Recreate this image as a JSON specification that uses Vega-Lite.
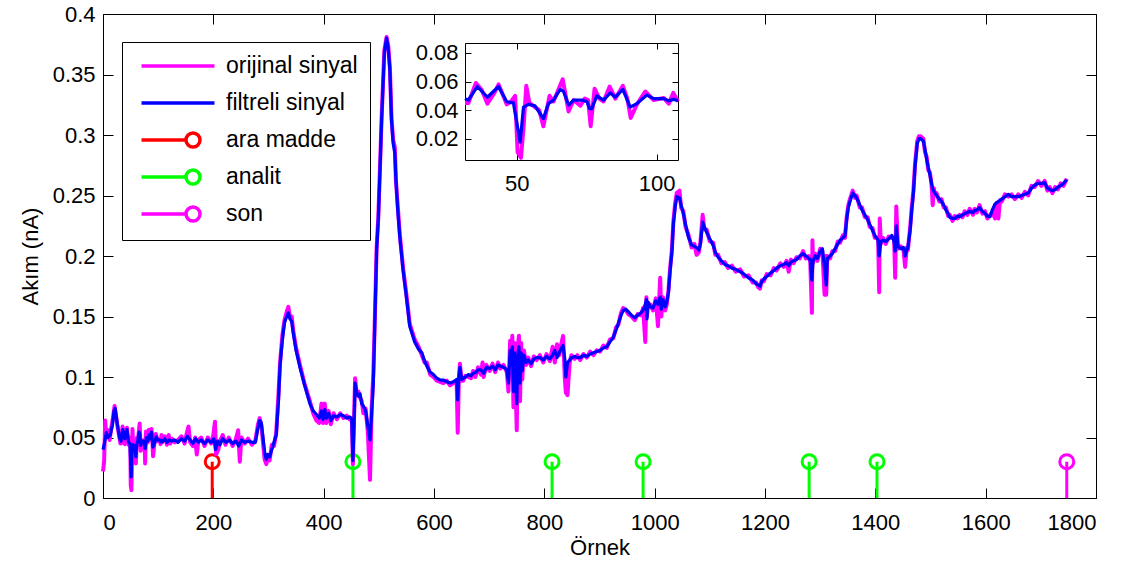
{
  "$schema": "https://vega.github.io/schema/vega-lite/v6.json",
  "width": 993,
  "height": 484,
  "autosize": {"type": "none"},
  "padding": {"left": 103, "top": 14, "right": 40, "bottom": 76},
  "background": "white",
  "config": {
    "view": {"stroke": null},
    "font": "Liberation Sans",
    "axis": {
      "grid": false,
      "domainColor": "black",
      "domainWidth": 1,
      "tickColor": "black",
      "tickWidth": 1,
      "labelColor": "black",
      "labelFont": "Liberation Sans",
      "labelFontSize": 22,
      "titleFont": "Liberation Sans",
      "titleFontSize": 22,
      "titleFontWeight": "normal",
      "titleColor": "black"
    }
  },
  "datasets": {
    "stems": [
      {"type": "ara madde", "x": 198, "y": 0.03},
      {"type": "analit", "x": 453, "y": 0.03},
      {"type": "analit", "x": 814, "y": 0.03},
      {"type": "analit", "x": 979, "y": 0.03},
      {"type": "analit", "x": 1280, "y": 0.03},
      {"type": "analit", "x": 1403, "y": 0.03},
      {"type": "son", "x": 1747, "y": 0.03}
    ],
    "filt": [
      {"x":0,"y":0.040},{"x":3,"y":0.046},{"x":6,"y":0.054},{"x":9,"y":0.050},{"x":13,"y":0.052},{"x":17,"y":0.060},{"x":20,"y":0.072},{"x":22,"y":0.074},{"x":25,"y":0.064},{"x":27,"y":0.058},{"x":30,"y":0.050},
      {"x":31.5,"y":0.048},{"x":32.7,"y":0.047},{"x":35.9,"y":0.0565},{"x":39.5,"y":0.049},{"x":43.5,"y":0.0565},{"x":46.4,"y":0.0458},{"x":48.8,"y":0.045},{"x":51.2,"y":0.0175},{"x":52.4,"y":0.042},{"x":54.2,"y":0.044},{"x":56.5,"y":0.043},{"x":59.5,"y":0.034},{"x":61.3,"y":0.0445},{"x":63.1,"y":0.047},{"x":65.5,"y":0.0545},{"x":66.7,"y":0.053},{"x":68.5,"y":0.0435},{"x":70.3,"y":0.047},{"x":73.3,"y":0.047},{"x":75.1,"y":0.0458},{"x":76.0,"y":0.041},{"x":76.8,"y":0.041},{"x":78.6,"y":0.050},{"x":81.0,"y":0.047},{"x":83.4,"y":0.052},{"x":85.2,"y":0.049},{"x":87.9,"y":0.0545},{"x":90.5,"y":0.042},{"x":92.9,"y":0.0445},{"x":96.5,"y":0.0505},{"x":98.9,"y":0.048},{"x":102.5,"y":0.048},{"x":104.3,"y":0.0465},{"x":106.1,"y":0.0475},{"x":107.6,"y":0.0465},
      {"x":112,"y":0.049},{"x":116,"y":0.046},{"x":120,"y":0.048},{"x":125,"y":0.047},{"x":130,"y":0.048},{"x":136,"y":0.046},{"x":142,"y":0.049},{"x":148,"y":0.047},{"x":153,"y":0.051},{"x":158,"y":0.048},{"x":163,"y":0.045},{"x":168,"y":0.049},{"x":173,"y":0.046},{"x":178,"y":0.048},{"x":184,"y":0.045},{"x":190,"y":0.048},{"x":196,"y":0.046},{"x":201,"y":0.049},{"x":204,"y":0.040},{"x":208,"y":0.047},{"x":212,"y":0.044},{"x":217,"y":0.049},{"x":223,"y":0.046},{"x":229,"y":0.048},{"x":235,"y":0.045},{"x":241,"y":0.047},{"x":246,"y":0.043},{"x":251,"y":0.048},{"x":257,"y":0.046},{"x":263,"y":0.047},{"x":270,"y":0.046},{"x":276,"y":0.046},{"x":281,"y":0.058},{"x":284,"y":0.064},{"x":287,"y":0.062},{"x":290,"y":0.050},{"x":293,"y":0.038},{"x":296,"y":0.032},{"x":299,"y":0.036},{"x":302,"y":0.034},{"x":306,"y":0.040},{"x":310,"y":0.046},{"x":314,"y":0.052},{"x":318,"y":0.080},{"x":321,"y":0.110},{"x":325,"y":0.130},{"x":329,"y":0.145},{"x":333,"y":0.150},{"x":336,"y":0.153},{"x":339,"y":0.148},{"x":342,"y":0.146},{"x":345,"y":0.136},{"x":350,"y":0.122},{"x":357,"y":0.108},{"x":365,"y":0.094},{"x":375,"y":0.078},{"x":381,"y":0.072},{"x":387,"y":0.069},{"x":392,"y":0.066},{"x":396,"y":0.072},{"x":399,"y":0.065},{"x":402,"y":0.073},{"x":405,"y":0.066},{"x":409,"y":0.070},{"x":413,"y":0.064},{"x":418,"y":0.068},{"x":424,"y":0.067},{"x":430,"y":0.069},{"x":436,"y":0.068},{"x":442,"y":0.066},{"x":447,"y":0.067},{"x":451,"y":0.065},{"x":453,"y":0.031},{"x":455,"y":0.060},{"x":457,"y":0.095},{"x":460,"y":0.087},{"x":463,"y":0.084},{"x":466,"y":0.086},{"x":469,"y":0.078},{"x":472,"y":0.076},{"x":476,"y":0.072},{"x":480,"y":0.060},{"x":484,"y":0.048},{"x":487,"y":0.070},{"x":490,"y":0.095},{"x":493,"y":0.150},{"x":496,"y":0.205},{"x":499,"y":0.230},{"x":502,"y":0.270},{"x":505,"y":0.312},{"x":510,"y":0.368},{"x":514,"y":0.380},{"x":517,"y":0.372},{"x":520,"y":0.354},{"x":523,"y":0.312},{"x":526,"y":0.293},{"x":529,"y":0.285},{"x":531,"y":0.263},{"x":534,"y":0.240},{"x":538,"y":0.216},{"x":544,"y":0.188},{"x":550,"y":0.166},{"x":556,"y":0.142},{"x":565,"y":0.129},{"x":572,"y":0.123},{"x":578,"y":0.120},{"x":583,"y":0.113},{"x":587,"y":0.109},{"x":593,"y":0.104},{"x":599,"y":0.102},{"x":605,"y":0.099},{"x":611,"y":0.0975},{"x":617,"y":0.0975},{"x":623,"y":0.096},{"x":629,"y":0.095},{"x":635,"y":0.096},{"x":641,"y":0.098},{"x":643,"y":0.081},{"x":645,"y":0.100},{"x":647,"y":0.108},{"x":650,"y":0.098},{"x":653,"y":0.099},{"x":657,"y":0.100},{"x":662,"y":0.102},{"x":667,"y":0.101},{"x":671,"y":0.103},{"x":676,"y":0.104},{"x":680,"y":0.106},{"x":685,"y":0.106},{"x":690,"y":0.103},{"x":695,"y":0.108},{"x":701,"y":0.107},{"x":706,"y":0.109},{"x":711,"y":0.106},{"x":716,"y":0.110},{"x":720,"y":0.109},{"x":726,"y":0.108},{"x":732,"y":0.106},{"x":735,"y":0.095},{"x":738,"y":0.122},{"x":740,"y":0.110},{"x":742,"y":0.125},{"x":744,"y":0.088},{"x":746,"y":0.120},{"x":748,"y":0.100},{"x":750,"y":0.078},{"x":752,"y":0.118},{"x":754,"y":0.125},{"x":756,"y":0.095},{"x":758,"y":0.120},{"x":760,"y":0.105},{"x":763,"y":0.118},{"x":767,"y":0.112},{"x":771,"y":0.114},{"x":776,"y":0.111},{"x":781,"y":0.115},{"x":786,"y":0.116},{"x":792,"y":0.116},{"x":798,"y":0.114},{"x":804,"y":0.117},{"x":810,"y":0.115},{"x":815,"y":0.118},{"x":819,"y":0.122},{"x":823,"y":0.116},{"x":827,"y":0.120},{"x":831,"y":0.124},{"x":834,"y":0.126},{"x":837,"y":0.115},{"x":839,"y":0.100},{"x":842,"y":0.112},{"x":846,"y":0.114},{"x":849,"y":0.116},{"x":855,"y":0.117},{"x":860,"y":0.116},{"x":865,"y":0.116},{"x":871,"y":0.118},{"x":877,"y":0.117},{"x":883,"y":0.119},{"x":889,"y":0.120},{"x":895,"y":0.121},{"x":901,"y":0.122},{"x":907,"y":0.124},{"x":913,"y":0.125},{"x":919,"y":0.129},{"x":925,"y":0.133},{"x":930,"y":0.139},{"x":934,"y":0.144},{"x":939,"y":0.151},{"x":943,"y":0.155},{"x":948,"y":0.156},{"x":952,"y":0.154},{"x":958,"y":0.151},{"x":964,"y":0.149},{"x":969,"y":0.151},{"x":975,"y":0.153},{"x":979,"y":0.155},{"x":983,"y":0.160},{"x":985,"y":0.164},{"x":986,"y":0.148},{"x":988,"y":0.162},{"x":992,"y":0.158},{"x":997,"y":0.157},{"x":1002,"y":0.163},{"x":1006,"y":0.160},{"x":1010,"y":0.166},{"x":1012,"y":0.156},{"x":1015,"y":0.164},{"x":1019,"y":0.158},{"x":1022,"y":0.162},{"x":1025,"y":0.170},{"x":1028,"y":0.188},{"x":1031,"y":0.202},{"x":1034,"y":0.227},{"x":1037,"y":0.240},{"x":1040,"y":0.249},{"x":1045,"y":0.248},{"x":1048,"y":0.242},{"x":1052,"y":0.235},{"x":1056,"y":0.226},{"x":1061,"y":0.216},{"x":1067,"y":0.209},{"x":1072,"y":0.208},{"x":1076,"y":0.207},{"x":1080,"y":0.205},{"x":1083,"y":0.210},{"x":1087,"y":0.228},{"x":1090,"y":0.224},{"x":1094,"y":0.220},{"x":1100,"y":0.214},{"x":1106,"y":0.209},{"x":1110,"y":0.203},{"x":1115,"y":0.199},{"x":1121,"y":0.196},{"x":1127,"y":0.193},{"x":1133,"y":0.192},{"x":1140,"y":0.190},{"x":1147,"y":0.189},{"x":1155,"y":0.187},{"x":1162,"y":0.185},{"x":1170,"y":0.182},{"x":1178,"y":0.180},{"x":1184,"y":0.177},{"x":1188,"y":0.176},{"x":1191,"y":0.175},{"x":1194,"y":0.179},{"x":1198,"y":0.181},{"x":1203,"y":0.183},{"x":1210,"y":0.186},{"x":1216,"y":0.188},{"x":1221,"y":0.190},{"x":1228,"y":0.192},{"x":1234,"y":0.193},{"x":1239,"y":0.1945},{"x":1243,"y":0.192},{"x":1247,"y":0.195},{"x":1252,"y":0.196},{"x":1257,"y":0.197},{"x":1263,"y":0.200},{"x":1269,"y":0.202},{"x":1274,"y":0.200},{"x":1279,"y":0.198},{"x":1282,"y":0.197},{"x":1285,"y":0.180},{"x":1287,"y":0.196},{"x":1291,"y":0.200},{"x":1295,"y":0.198},{"x":1300,"y":0.204},{"x":1304,"y":0.206},{"x":1308,"y":0.190},{"x":1311,"y":0.176},{"x":1313,"y":0.198},{"x":1318,"y":0.200},{"x":1322,"y":0.202},{"x":1327,"y":0.206},{"x":1332,"y":0.210},{"x":1336,"y":0.213},{"x":1341,"y":0.215},{"x":1345,"y":0.217},{"x":1348,"y":0.230},{"x":1351,"y":0.240},{"x":1354,"y":0.245},{"x":1359,"y":0.252},{"x":1363,"y":0.250},{"x":1366,"y":0.248},{"x":1372,"y":0.242},{"x":1376,"y":0.238},{"x":1381,"y":0.234},{"x":1386,"y":0.230},{"x":1390,"y":0.226},{"x":1395,"y":0.221},{"x":1399,"y":0.217},{"x":1405,"y":0.213},{"x":1407,"y":0.200},{"x":1410,"y":0.212},{"x":1414,"y":0.213},{"x":1419,"y":0.212},{"x":1424,"y":0.214},{"x":1430,"y":0.217},{"x":1434,"y":0.212},{"x":1436,"y":0.204},{"x":1438,"y":0.225},{"x":1441,"y":0.208},{"x":1446,"y":0.206},{"x":1451,"y":0.207},{"x":1454,"y":0.200},{"x":1457,"y":0.205},{"x":1459,"y":0.207},{"x":1463,"y":0.221},{"x":1466,"y":0.238},{"x":1469,"y":0.252},{"x":1472,"y":0.274},{"x":1476,"y":0.293},{"x":1479,"y":0.297},{"x":1482,"y":0.297},{"x":1487,"y":0.295},{"x":1490,"y":0.288},{"x":1493,"y":0.280},{"x":1496,"y":0.273},{"x":1499,"y":0.267},{"x":1502,"y":0.260},{"x":1504,"y":0.255},{"x":1508,"y":0.252},{"x":1511,"y":0.250},{"x":1516,"y":0.247},{"x":1520,"y":0.245},{"x":1524,"y":0.242},{"x":1528,"y":0.238},{"x":1532,"y":0.235},{"x":1535,"y":0.232},{"x":1540,"y":0.231},{"x":1544,"y":0.231},{"x":1549,"y":0.233},{"x":1553,"y":0.2325},{"x":1558,"y":0.234},{"x":1562,"y":0.235},{"x":1567,"y":0.236},{"x":1571,"y":0.237},{"x":1577,"y":0.236},{"x":1580,"y":0.2375},{"x":1584,"y":0.238},{"x":1589,"y":0.240},{"x":1594,"y":0.237},{"x":1599,"y":0.235},{"x":1603,"y":0.233},{"x":1608,"y":0.2325},{"x":1612,"y":0.238},{"x":1617,"y":0.243},{"x":1623,"y":0.245},{"x":1629,"y":0.247},{"x":1635,"y":0.249},{"x":1641,"y":0.251},{"x":1647,"y":0.249},{"x":1653,"y":0.249},{"x":1659,"y":0.249},{"x":1665,"y":0.250},{"x":1671,"y":0.251},{"x":1677,"y":0.252},{"x":1683,"y":0.256},{"x":1689,"y":0.2587},{"x":1695,"y":0.260},{"x":1701,"y":0.260},{"x":1707,"y":0.2605},{"x":1712,"y":0.256},{"x":1716,"y":0.255},{"x":1721,"y":0.254},{"x":1726,"y":0.255},{"x":1731,"y":0.257},{"x":1736,"y":0.258},{"x":1741,"y":0.260},{"x":1747,"y":0.263}
    ],
    "orig": [
      {"x":0,"y":0.022},{"x":2,"y":0.030},{"x":4,"y":0.064},{"x":6,"y":0.050},{"x":9,"y":0.056},{"x":12,"y":0.048},{"x":15,"y":0.058},{"x":18,"y":0.066},{"x":21,"y":0.076},{"x":23,"y":0.070},{"x":26,"y":0.060},{"x":29,"y":0.052},
      {"x":31.5,"y":0.045},{"x":32.7,"y":0.045},{"x":35.4,"y":0.059},{"x":37.5,"y":0.054},{"x":39.5,"y":0.0445},{"x":42,"y":0.052},{"x":43.5,"y":0.058},{"x":46.4,"y":0.044},{"x":48,"y":0.046},{"x":49.4,"y":0.050},{"x":50.3,"y":0.0105},{"x":51.5,"y":0.0065},{"x":52.5,"y":0.030},{"x":53.4,"y":0.057},{"x":54.5,"y":0.045},{"x":56.5,"y":0.042},{"x":58,"y":0.040},{"x":59.5,"y":0.0286},{"x":61.7,"y":0.050},{"x":63.1,"y":0.046},{"x":65,"y":0.055},{"x":66.4,"y":0.0615},{"x":67.5,"y":0.050},{"x":68.5,"y":0.039},{"x":70.3,"y":0.047},{"x":72.7,"y":0.043},{"x":74.3,"y":0.048},{"x":75.5,"y":0.047},{"x":76.4,"y":0.0286},{"x":77.8,"y":0.055},{"x":79.5,"y":0.048},{"x":81,"y":0.046},{"x":83.2,"y":0.0565},{"x":85.2,"y":0.048},{"x":87.9,"y":0.057},{"x":89.5,"y":0.048},{"x":90.7,"y":0.0345},{"x":92.9,"y":0.044},{"x":95.9,"y":0.053},{"x":98.9,"y":0.047},{"x":102.5,"y":0.0485},{"x":104.3,"y":0.0445},{"x":105.9,"y":0.052},{"x":107.6,"y":0.046},
      {"x":112,"y":0.051},{"x":116,"y":0.044},{"x":119,"y":0.052},{"x":122,"y":0.045},{"x":125,"y":0.049},{"x":130,"y":0.046},{"x":136,"y":0.048},{"x":142,"y":0.051},{"x":148,"y":0.045},{"x":152,"y":0.054},{"x":155,"y":0.059},{"x":158,"y":0.046},{"x":163,"y":0.043},{"x":167,"y":0.050},{"x":170,"y":0.036},{"x":173,"y":0.048},{"x":178,"y":0.050},{"x":184,"y":0.043},{"x":190,"y":0.050},{"x":196,"y":0.045},{"x":200,"y":0.052},{"x":203,"y":0.063},{"x":205,"y":0.036},{"x":209,"y":0.040},{"x":212,"y":0.047},{"x":217,"y":0.052},{"x":222,"y":0.044},{"x":228,"y":0.050},{"x":235,"y":0.043},{"x":241,"y":0.049},{"x":245,"y":0.056},{"x":248,"y":0.030},{"x":251,"y":0.050},{"x":257,"y":0.045},{"x":263,"y":0.049},{"x":270,"y":0.044},{"x":276,"y":0.047},{"x":281,"y":0.061},{"x":284,"y":0.066},{"x":287,"y":0.060},{"x":290,"y":0.046},{"x":293,"y":0.032},{"x":296,"y":0.028},{"x":299,"y":0.034},{"x":302,"y":0.031},{"x":306,"y":0.044},{"x":310,"y":0.043},{"x":314,"y":0.054},{"x":318,"y":0.085},{"x":321,"y":0.112},{"x":325,"y":0.134},{"x":329,"y":0.147},{"x":333,"y":0.154},{"x":336,"y":0.158},{"x":339,"y":0.149},{"x":342,"y":0.150},{"x":345,"y":0.138},{"x":350,"y":0.124},{"x":357,"y":0.110},{"x":365,"y":0.095},{"x":375,"y":0.080},{"x":381,"y":0.070},{"x":387,"y":0.064},{"x":392,"y":0.062},{"x":396,"y":0.078},{"x":399,"y":0.062},{"x":402,"y":0.078},{"x":405,"y":0.062},{"x":409,"y":0.072},{"x":413,"y":0.061},{"x":418,"y":0.070},{"x":424,"y":0.065},{"x":430,"y":0.070},{"x":436,"y":0.066},{"x":442,"y":0.068},{"x":447,"y":0.065},{"x":451,"y":0.066},{"x":453,"y":0.028},{"x":455,"y":0.065},{"x":457,"y":0.099},{"x":460,"y":0.085},{"x":463,"y":0.088},{"x":466,"y":0.083},{"x":469,"y":0.080},{"x":472,"y":0.070},{"x":476,"y":0.074},{"x":480,"y":0.055},{"x":484,"y":0.015},{"x":487,"y":0.074},{"x":490,"y":0.103},{"x":493,"y":0.152},{"x":496,"y":0.207},{"x":499,"y":0.232},{"x":502,"y":0.272},{"x":505,"y":0.314},{"x":510,"y":0.370},{"x":514,"y":0.381},{"x":517,"y":0.374},{"x":520,"y":0.356},{"x":523,"y":0.314},{"x":526,"y":0.296},{"x":529,"y":0.290},{"x":531,"y":0.262},{"x":534,"y":0.243},{"x":538,"y":0.218},{"x":544,"y":0.190},{"x":550,"y":0.168},{"x":556,"y":0.144},{"x":565,"y":0.131},{"x":572,"y":0.125},{"x":578,"y":0.118},{"x":583,"y":0.112},{"x":587,"y":0.112},{"x":593,"y":0.102},{"x":599,"y":0.100},{"x":605,"y":0.097},{"x":611,"y":0.096},{"x":617,"y":0.095},{"x":623,"y":0.097},{"x":629,"y":0.093},{"x":635,"y":0.095},{"x":641,"y":0.097},{"x":643,"y":0.054},{"x":645,"y":0.098},{"x":647,"y":0.111},{"x":650,"y":0.097},{"x":653,"y":0.097},{"x":657,"y":0.101},{"x":662,"y":0.100},{"x":667,"y":0.099},{"x":671,"y":0.105},{"x":675,"y":0.100},{"x":680,"y":0.108},{"x":685,"y":0.102},{"x":688,"y":0.112},{"x":690,"y":0.100},{"x":695,"y":0.110},{"x":701,"y":0.105},{"x":706,"y":0.111},{"x":711,"y":0.104},{"x":716,"y":0.112},{"x":720,"y":0.107},{"x":726,"y":0.110},{"x":732,"y":0.104},{"x":735,"y":0.088},{"x":738,"y":0.130},{"x":740,"y":0.105},{"x":742,"y":0.134},{"x":744,"y":0.075},{"x":746,"y":0.128},{"x":748,"y":0.092},{"x":750,"y":0.056},{"x":752,"y":0.126},{"x":754,"y":0.134},{"x":756,"y":0.080},{"x":758,"y":0.128},{"x":760,"y":0.098},{"x":763,"y":0.122},{"x":767,"y":0.110},{"x":771,"y":0.116},{"x":776,"y":0.109},{"x":781,"y":0.117},{"x":786,"y":0.114},{"x":792,"y":0.118},{"x":798,"y":0.112},{"x":804,"y":0.119},{"x":810,"y":0.113},{"x":815,"y":0.125},{"x":819,"y":0.112},{"x":823,"y":0.127},{"x":827,"y":0.118},{"x":831,"y":0.128},{"x":834,"y":0.134},{"x":837,"y":0.100},{"x":839,"y":0.087},{"x":842,"y":0.085},{"x":846,"y":0.112},{"x":849,"y":0.118},{"x":855,"y":0.115},{"x":860,"y":0.118},{"x":865,"y":0.114},{"x":871,"y":0.119},{"x":877,"y":0.116},{"x":883,"y":0.121},{"x":889,"y":0.118},{"x":895,"y":0.122},{"x":901,"y":0.121},{"x":907,"y":0.126},{"x":913,"y":0.124},{"x":919,"y":0.131},{"x":925,"y":0.132},{"x":930,"y":0.141},{"x":934,"y":0.143},{"x":939,"y":0.153},{"x":943,"y":0.157},{"x":948,"y":0.155},{"x":952,"y":0.152},{"x":958,"y":0.150},{"x":964,"y":0.147},{"x":969,"y":0.152},{"x":975,"y":0.151},{"x":979,"y":0.157},{"x":983,"y":0.129},{"x":985,"y":0.166},{"x":986,"y":0.150},{"x":988,"y":0.160},{"x":992,"y":0.160},{"x":997,"y":0.155},{"x":1002,"y":0.165},{"x":1006,"y":0.142},{"x":1010,"y":0.182},{"x":1012,"y":0.150},{"x":1015,"y":0.166},{"x":1019,"y":0.155},{"x":1022,"y":0.160},{"x":1025,"y":0.172},{"x":1028,"y":0.190},{"x":1031,"y":0.204},{"x":1034,"y":0.229},{"x":1037,"y":0.243},{"x":1040,"y":0.252},{"x":1045,"y":0.254},{"x":1048,"y":0.240},{"x":1052,"y":0.237},{"x":1056,"y":0.224},{"x":1061,"y":0.218},{"x":1067,"y":0.207},{"x":1072,"y":0.210},{"x":1076,"y":0.201},{"x":1080,"y":0.203},{"x":1083,"y":0.212},{"x":1087,"y":0.234},{"x":1090,"y":0.222},{"x":1094,"y":0.222},{"x":1100,"y":0.212},{"x":1106,"y":0.211},{"x":1110,"y":0.201},{"x":1115,"y":0.201},{"x":1121,"y":0.194},{"x":1127,"y":0.195},{"x":1133,"y":0.190},{"x":1140,"y":0.192},{"x":1147,"y":0.187},{"x":1155,"y":0.189},{"x":1162,"y":0.183},{"x":1170,"y":0.184},{"x":1178,"y":0.178},{"x":1184,"y":0.178},{"x":1188,"y":0.174},{"x":1191,"y":0.173},{"x":1194,"y":0.180},{"x":1198,"y":0.179},{"x":1203,"y":0.185},{"x":1210,"y":0.184},{"x":1216,"y":0.190},{"x":1221,"y":0.188},{"x":1228,"y":0.194},{"x":1234,"y":0.191},{"x":1239,"y":0.196},{"x":1243,"y":0.187},{"x":1247,"y":0.197},{"x":1252,"y":0.194},{"x":1257,"y":0.199},{"x":1263,"y":0.198},{"x":1269,"y":0.204},{"x":1274,"y":0.198},{"x":1279,"y":0.200},{"x":1282,"y":0.195},{"x":1285,"y":0.153},{"x":1286,"y":0.213},{"x":1287,"y":0.194},{"x":1291,"y":0.202},{"x":1295,"y":0.196},{"x":1300,"y":0.206},{"x":1304,"y":0.204},{"x":1308,"y":0.168},{"x":1310,"y":0.200},{"x":1311,"y":0.168},{"x":1313,"y":0.200},{"x":1318,"y":0.198},{"x":1322,"y":0.204},{"x":1327,"y":0.204},{"x":1332,"y":0.212},{"x":1336,"y":0.211},{"x":1341,"y":0.217},{"x":1345,"y":0.215},{"x":1348,"y":0.232},{"x":1351,"y":0.242},{"x":1354,"y":0.247},{"x":1359,"y":0.254},{"x":1363,"y":0.248},{"x":1366,"y":0.250},{"x":1372,"y":0.240},{"x":1376,"y":0.240},{"x":1381,"y":0.232},{"x":1386,"y":0.232},{"x":1390,"y":0.224},{"x":1395,"y":0.223},{"x":1399,"y":0.215},{"x":1405,"y":0.215},{"x":1407,"y":0.170},{"x":1408,"y":0.231},{"x":1410,"y":0.210},{"x":1414,"y":0.215},{"x":1419,"y":0.210},{"x":1424,"y":0.216},{"x":1430,"y":0.215},{"x":1434,"y":0.214},{"x":1436,"y":0.182},{"x":1438,"y":0.241},{"x":1441,"y":0.206},{"x":1446,"y":0.208},{"x":1451,"y":0.205},{"x":1454,"y":0.191},{"x":1457,"y":0.207},{"x":1459,"y":0.205},{"x":1463,"y":0.223},{"x":1466,"y":0.240},{"x":1469,"y":0.254},{"x":1472,"y":0.276},{"x":1476,"y":0.295},{"x":1479,"y":0.299},{"x":1482,"y":0.299},{"x":1487,"y":0.297},{"x":1490,"y":0.286},{"x":1493,"y":0.282},{"x":1496,"y":0.271},{"x":1499,"y":0.269},{"x":1502,"y":0.258},{"x":1504,"y":0.242},{"x":1506,"y":0.256},{"x":1508,"y":0.250},{"x":1511,"y":0.252},{"x":1516,"y":0.245},{"x":1520,"y":0.247},{"x":1524,"y":0.240},{"x":1528,"y":0.240},{"x":1532,"y":0.233},{"x":1535,"y":0.234},{"x":1540,"y":0.229},{"x":1544,"y":0.233},{"x":1549,"y":0.231},{"x":1553,"y":0.234},{"x":1558,"y":0.232},{"x":1562,"y":0.237},{"x":1567,"y":0.234},{"x":1571,"y":0.239},{"x":1577,"y":0.234},{"x":1580,"y":0.239},{"x":1584,"y":0.236},{"x":1589,"y":0.242},{"x":1594,"y":0.235},{"x":1599,"y":0.237},{"x":1603,"y":0.231},{"x":1608,"y":0.234},{"x":1612,"y":0.236},{"x":1617,"y":0.231},{"x":1620,"y":0.244},{"x":1623,"y":0.231},{"x":1626,"y":0.246},{"x":1629,"y":0.245},{"x":1635,"y":0.251},{"x":1641,"y":0.249},{"x":1647,"y":0.251},{"x":1653,"y":0.247},{"x":1659,"y":0.251},{"x":1665,"y":0.248},{"x":1671,"y":0.253},{"x":1677,"y":0.250},{"x":1683,"y":0.258},{"x":1689,"y":0.257},{"x":1695,"y":0.262},{"x":1701,"y":0.258},{"x":1707,"y":0.262},{"x":1712,"y":0.254},{"x":1716,"y":0.257},{"x":1721,"y":0.252},{"x":1726,"y":0.257},{"x":1731,"y":0.255},{"x":1736,"y":0.260},{"x":1741,"y":0.258},{"x":1747,"y":0.264}
    ]
  },
  "resolve": {"scale": {"x": "independent", "y": "independent"}, "axis": {"x": "independent", "y": "independent"}},
  "layer": [
    {
      "layer": [
        {
          "data": {"name": "stems"},
          "mark": {"type": "rule", "strokeWidth": 3},
          "encoding": {
            "x": {"field": "x", "type": "quantitative",
              "scale": {"domain": [0, 1800], "nice": false, "zero": false},
              "axis": {"orient": "bottom", "values": [0,200,400,600,800,1000,1200,1400,1600,1800], "format": "d", "tickSize": -10, "labelPadding": 24, "title": "Örnek", "titlePadding": 4}},
            "y": {"field": "y", "type": "quantitative",
              "scale": {"domain": [0, 0.4], "nice": false, "zero": false},
              "axis": {"orient": "left", "values": [0,0.05,0.1,0.15,0.2,0.25,0.3,0.35,0.4], "format": "~g", "tickSize": -10, "labelPadding": 18, "title": "Akım (nA)", "titlePadding": 10}},
            "y2": {"datum": 0},
            "color": {"field": "type", "type": "nominal",
              "scale": {"domain": ["orijinal sinyal", "filtreli sinyal", "ara madde", "analit", "son"], "range": ["#ff00ff", "#0000ff", "#ff0000", "#00ff00", "#ff00ff"]},
              "legend": {
                "orient": "none", "legendX": 19, "legendY": 28, "title": null,
                "strokeColor": "black", "fillColor": "white", "padding": 12, "rowPadding": 9, "gridAlign": "all",
                "symbolSize": 400, "symbolOffset": 32, "labelOffset": 36, "symbolStrokeWidth": 3,
                "labelFont": "Liberation Sans", "labelFontSize": 23, "labelColor": "black", "labelLimit": 400,
                "encode": {
                  "symbols": {
                    "update": {
                      "shape": {"signal": "(datum.value == 'orijinal sinyal' || datum.value == 'filtreli sinyal') ? 'M-3.65,0H3.65' : 'M-3.65,0H0.8M0.8,0A0.7,0.7 0 1,0 2.2,0A0.7,0.7 0 1,0 0.8,0'"},
                      "stroke": {"signal": "(datum.value == 'orijinal sinyal' || datum.value == 'son') ? '#ff00ff' : datum.value == 'filtreli sinyal' ? '#0000ff' : datum.value == 'ara madde' ? '#ff0000' : '#00ff00'"},
                      "fill": {"value": "transparent"},
                      "strokeWidth": {"value": 3.5},
                      "opacity": {"value": 1}
                    }
                  }
                }
              }}
          }
        },
        {
          "data": {"name": "stems"},
          "mark": {"type": "point", "shape": "circle", "filled": false, "size": 196, "strokeWidth": 3, "opacity": 1},
          "encoding": {
            "x": {"field": "x", "type": "quantitative"},
            "y": {"field": "y", "type": "quantitative"},
            "color": {"field": "type", "type": "nominal"}
          }
        },
        {
          "data": {"name": "orig"},
          "mark": {"type": "line", "strokeWidth": 4, "strokeJoin": "round"},
          "encoding": {
            "x": {"field": "x", "type": "quantitative"},
            "y": {"field": "y", "type": "quantitative"},
            "color": {"datum": "orijinal sinyal", "type": "nominal"}
          }
        },
        {
          "data": {"name": "filt"},
          "mark": {"type": "line", "strokeWidth": 3.2, "strokeJoin": "round"},
          "encoding": {
            "x": {"field": "x", "type": "quantitative"},
            "y": {"field": "y", "type": "quantitative"},
            "color": {"datum": "filtreli sinyal", "type": "nominal"}
          }
        }
      ]
    },
    {
      "data": {"name": "stems"},
      "mark": {"type": "point", "opacity": 0},
      "encoding": {
        "x": {"field": "x", "type": "quantitative",
          "scale": {"domain": [0, 1800], "nice": false, "zero": false},
          "axis": {"orient": "top", "values": [0,200,400,600,800,1000,1200,1400,1600,1800], "labels": false, "tickSize": -10, "title": null}},
        "y": {"field": "y", "type": "quantitative",
          "scale": {"domain": [0, 0.4], "nice": false, "zero": false},
          "axis": {"orient": "right", "values": [0,0.05,0.1,0.15,0.2,0.25,0.3,0.35,0.4], "labels": false, "tickSize": -10, "title": null}}
      }
    },
    {
      "layer": [
        {
          "data": {"name": "orig"},
          "transform": [{"filter": {"field": "x", "range": [31.5, 107.6]}}],
          "mark": {"type": "line", "strokeWidth": 4, "color": "#ff00ff", "strokeJoin": "round"},
          "encoding": {
            "x": {"field": "x", "type": "quantitative",
              "scale": {"domain": [31.5, 107.6], "range": [362, 575], "nice": false, "zero": false},
              "axis": {"orient": "bottom", "offset": -338, "values": [50, 100], "format": "~g", "tickSize": -6, "labelPadding": 19, "title": null}},
            "y": {"field": "y", "type": "quantitative",
              "scale": {"domain": [0.005, 0.087], "range": [146, 29], "nice": false, "zero": false},
              "axis": {"orient": "left", "offset": -362, "values": [0.02, 0.04, 0.06, 0.08], "format": "~g", "tickSize": -6, "labelPadding": 13, "title": null}}
          }
        },
        {
          "data": {"name": "filt"},
          "transform": [{"filter": {"field": "x", "range": [31.5, 107.6]}}],
          "mark": {"type": "line", "strokeWidth": 3.2, "color": "#0000ff", "strokeJoin": "round"},
          "encoding": {
            "x": {"field": "x", "type": "quantitative"},
            "y": {"field": "y", "type": "quantitative"}
          }
        }
      ]
    },
    {
      "data": {"name": "filt"},
      "transform": [{"filter": {"field": "x", "range": [31.5, 107.6]}}],
      "mark": {"type": "point", "opacity": 0},
      "encoding": {
        "x": {"field": "x", "type": "quantitative",
          "scale": {"domain": [31.5, 107.6], "range": [362, 575], "nice": false, "zero": false},
          "axis": {"orient": "top", "offset": -29, "values": [50, 100], "labels": false, "tickSize": -6, "title": null}},
        "y": {"field": "y", "type": "quantitative",
          "scale": {"domain": [0.005, 0.087], "range": [146, 29], "nice": false, "zero": false},
          "axis": {"orient": "right", "offset": -418, "values": [0.02, 0.04, 0.06, 0.08], "labels": false, "tickSize": -6, "title": null}}
      }
    }
  ]
}
